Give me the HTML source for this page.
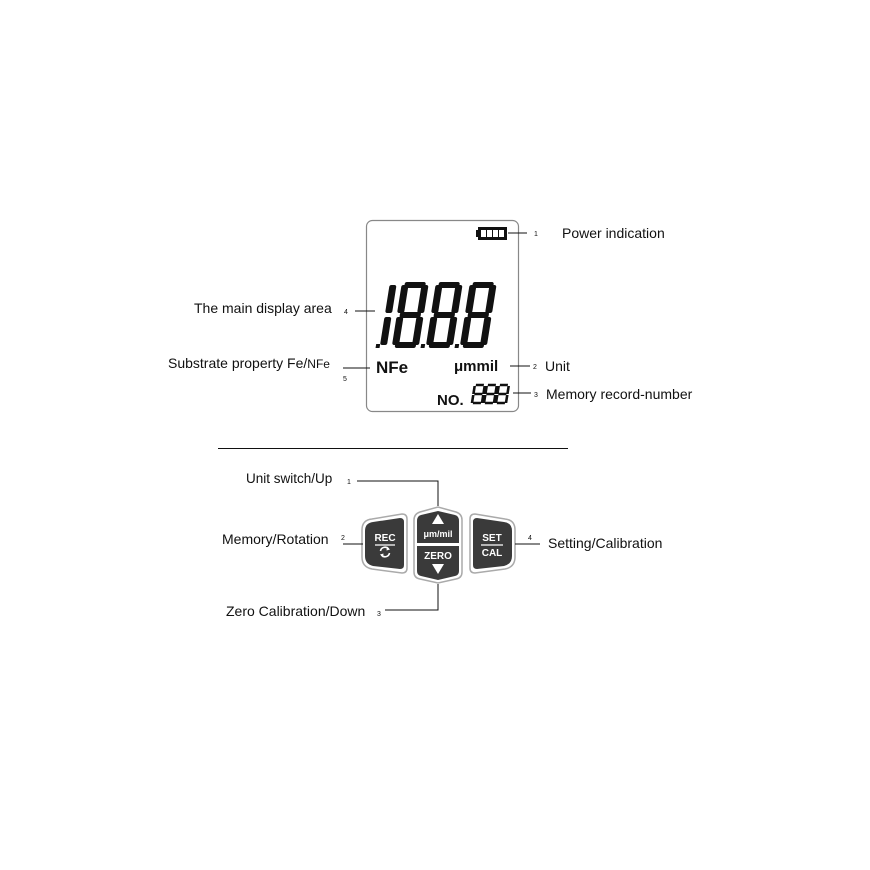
<!DOCTYPE html>
<html><head><style>
body{margin:0;background:#fff;width:870px;height:870px;overflow:hidden}
svg{display:block}
text{font-family:"Liberation Sans",sans-serif;fill:#111}
</style></head><body>
<svg width="870" height="870" viewBox="0 0 870 870">
<rect x="366.5" y="220.5" width="152" height="191" rx="6" fill="#fff" stroke="#888" stroke-width="1.2"/>
<rect x="476" y="230" width="3" height="7" fill="#111"/>
<rect x="478" y="227" width="29" height="13" fill="#111"/>
<rect x="481" y="230" width="5" height="7" fill="#fff"/><rect x="487" y="230" width="5" height="7" fill="#fff"/>
<rect x="493" y="230" width="5" height="7" fill="#fff"/><rect x="499" y="230" width="5" height="7" fill="#fff"/>
<line x1="508" y1="233" x2="527" y2="233" stroke="#111" stroke-width="1"/>
<text x="534" y="236" font-size="7">1</text>
<text x="562" y="238" font-size="14">Power indication</text>
<g fill="#111" transform="translate(0,282) skewX(-9) translate(8,0)">
 <rect x="382" y="3" width="7" height="28" rx="2"/><rect x="382" y="35" width="7" height="28" rx="2"/>
 <rect x="378" y="62" width="4" height="4"/>
 <g transform="translate(394,0)">
  <rect x="3" y="0" width="21" height="6" rx="2"/><rect x="0" y="3" width="7" height="28" rx="2"/><rect x="20" y="3" width="7" height="28" rx="2"/>
  <rect x="3" y="30" width="21" height="6" rx="2"/><rect x="0" y="35" width="7" height="28" rx="2"/><rect x="20" y="35" width="7" height="28" rx="2"/>
  <rect x="3" y="60" width="21" height="6" rx="2"/><rect x="29" y="62" width="4" height="4"/>
 </g>
 <g transform="translate(428,0)">
  <rect x="3" y="0" width="21" height="6" rx="2"/><rect x="0" y="3" width="7" height="28" rx="2"/><rect x="20" y="3" width="7" height="28" rx="2"/>
  <rect x="3" y="30" width="21" height="6" rx="2"/><rect x="0" y="35" width="7" height="28" rx="2"/><rect x="20" y="35" width="7" height="28" rx="2"/>
  <rect x="3" y="60" width="21" height="6" rx="2"/><rect x="29" y="62" width="4" height="4"/>
 </g>
 <g transform="translate(462,0)">
  <rect x="3" y="0" width="21" height="6" rx="2"/><rect x="0" y="3" width="7" height="28" rx="2"/><rect x="20" y="3" width="7" height="28" rx="2"/>
  <rect x="3" y="30" width="21" height="6" rx="2"/><rect x="0" y="35" width="7" height="28" rx="2"/><rect x="20" y="35" width="7" height="28" rx="2"/>
  <rect x="3" y="60" width="21" height="6" rx="2"/>
 </g>
</g>
<line x1="355" y1="311" x2="375" y2="311" stroke="#111"/>
<text x="344" y="314" font-size="7">4</text>
<text x="194" y="313" font-size="14">The main display area</text>
<text x="376" y="373" font-size="17" font-weight="bold">NFe</text>
<text x="454" y="371" font-size="15" font-weight="bold">μmmil</text>
<line x1="510" y1="366" x2="530" y2="366" stroke="#111"/>
<text x="533" y="369" font-size="7">2</text>
<text x="545" y="371" font-size="14">Unit</text>
<line x1="343" y1="368" x2="370" y2="368" stroke="#111"/>
<text x="343" y="381" font-size="7">5</text>
<text x="168" y="368" font-size="14">Substrate property Fe/<tspan font-size="12">NFe</tspan></text>
<text x="437" y="405" font-size="15" font-weight="bold">NO.</text>
<g fill="none" stroke="#111" stroke-width="2.6" transform="translate(0,384) skewX(-9) translate(2,0)">
 <path d="M474 1h8M473 2v8M483 2v8M474 10h8M473 11v8M483 11v8M474 19h8"/>
 <path d="M486 1h8M485 2v8M495 2v8M486 10h8M485 11v8M495 11v8M486 19h8"/>
 <path d="M498 1h8M497 2v8M507 2v8M498 10h8M497 11v8M507 11v8M498 19h8"/>
</g>
<line x1="513" y1="393" x2="531" y2="393" stroke="#111"/>
<text x="534" y="397" font-size="7">3</text>
<text x="546" y="399" font-size="14">Memory record-number</text>
<line x1="218" y1="448.5" x2="568" y2="448.5" stroke="#111"/>
<path d="M372 519 L402 514 Q407 514 407 519 L407 568 Q407 573 402 573 L372 569 Q362 567 362 557 L362 530 Q362 520 372 519Z" fill="#fff" stroke="#aaa" stroke-width="1.5"/>
<path d="M373 522 L400 518 Q404 518 404 522 L404 565 Q404 569 400 569 L373 566 Q365 564 365 556 L365 531 Q365 523 373 522Z" fill="#3a3a3a"/>
<text x="385" y="541" font-size="10" font-weight="bold" style="fill:#fff" text-anchor="middle">REC</text>
<line x1="375" y1="545" x2="395" y2="545" stroke="#fff" stroke-width="1.3"/>
<path d="M380.5 551 A4.5 4.5 0 0 1 388.5 549 M389.5 553 A4.5 4.5 0 0 1 381.5 555" fill="none" stroke="#fff" stroke-width="1.6"/>
<path d="M387 546.5 L390 549.5 L386.5 550.5Z M383 557.5 L380 554.5 L383.5 553.5Z" fill="#fff"/>
<path d="M420 512 L438 507 L456 512 Q462 514 462 520 L462 572 Q462 578 456 579 L438 583 L420 579 Q414 578 414 572 L414 520 Q414 514 420 512Z" fill="#fff" stroke="#aaa" stroke-width="1.5"/>
<path d="M421 515 L438 511 L455 515 Q459 516 459 521 L459 543 L417 543 L417 521 Q417 516 421 515Z" fill="#3a3a3a"/>
<path d="M417 546 L459 546 L459 571 Q459 575 455 576 L438 580 L421 576 Q417 575 417 571Z" fill="#3a3a3a"/>
<path d="M438 514 L444 524 L432 524Z" fill="#fff"/>
<text x="438" y="537" font-size="9" font-weight="bold" style="fill:#fff" text-anchor="middle">μm/mil</text>
<text x="438" y="559" font-size="10" font-weight="bold" style="fill:#fff" text-anchor="middle">ZERO</text>
<path d="M432 564 L444 564 L438 574Z" fill="#fff"/>
<path d="M475 514 L505 519 Q515 520 515 530 L515 557 Q515 567 505 569 L475 573 Q470 573 470 568 L470 519 Q470 514 475 514Z" fill="#fff" stroke="#aaa" stroke-width="1.5"/>
<path d="M477 518 L504 522 Q512 523 512 531 L512 556 Q512 564 504 566 L477 569 Q473 569 473 565 L473 522 Q473 518 477 518Z" fill="#3a3a3a"/>
<text x="492" y="541" font-size="10" font-weight="bold" style="fill:#fff" text-anchor="middle">SET</text>
<line x1="481" y1="545" x2="503" y2="545" stroke="#fff" stroke-width="1.3"/>
<text x="492" y="556" font-size="10" font-weight="bold" style="fill:#fff" text-anchor="middle">CAL</text>
<path d="M357 481 H438 V506" fill="none" stroke="#111"/>
<text x="347" y="484" font-size="7">1</text>
<text x="246" y="483" font-size="13.5">Unit switch/Up</text>
<line x1="343" y1="544" x2="363" y2="544" stroke="#111"/>
<text x="341" y="540" font-size="7">2</text>
<text x="222" y="544" font-size="14">Memory/Rotation</text>
<line x1="515" y1="544" x2="540" y2="544" stroke="#111"/>
<text x="528" y="540" font-size="7">4</text>
<text x="548" y="548" font-size="14">Setting/Calibration</text>
<path d="M385 610 H438 V584" fill="none" stroke="#111"/>
<text x="377" y="616" font-size="7">3</text>
<text x="226" y="616" font-size="14">Zero Calibration/Down</text>
</svg>
</body></html>
